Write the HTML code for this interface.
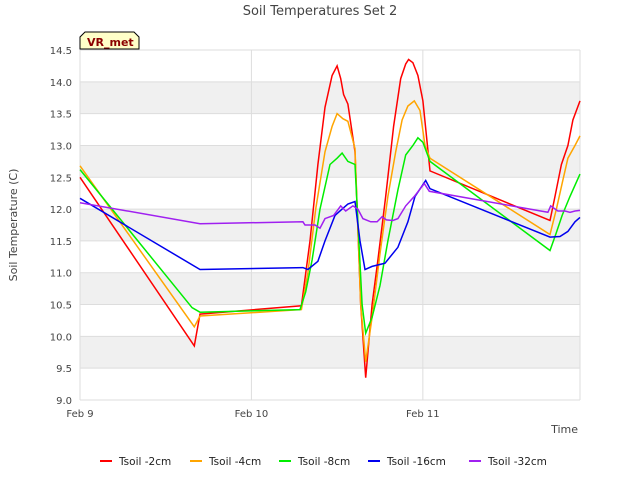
<!DOCTYPE html>
<html><head><meta charset="utf-8"><style>
body{margin:0;background:#fff;font-family:"Liberation Sans",sans-serif}
svg text{font-family:"DejaVu Sans","Liberation Sans",sans-serif}
</style></head><body>
<svg id="c" width="640" height="480">
<text x="320" y="15" text-anchor="middle" font-size="13" fill="#444">Soil Temperatures Set 2</text>
<g id="bands"></g><g id="grid"></g><g id="ticks"></g><g id="lines"></g>
<text transform="translate(17,225) rotate(-90)" text-anchor="middle" font-size="11" fill="#444">Soil Temperature (C)</text>
<text x="578" y="433" text-anchor="end" font-size="11" fill="#444">Time</text>
<g>
<path d="M80,49 L80,37 L85,32 L134,32 L139,37 L139,49 Z" fill="#ffffc8" stroke="#000" stroke-width="1"/>
<text x="87" y="46" font-size="11" font-weight="bold" fill="#8b0000">VR_met</text></g>
<g id="legend"></g>
</svg>
<script>
const names=["Tsoil -2cm","Tsoil -4cm","Tsoil -8cm","Tsoil -16cm","Tsoil -32cm"];
const colors=["#ff0000","#ffa500","#00ee00","#0000ee","#a020f0"];
const hours2=[0,16,16.8,31,32.2,33.3,34.3,35.3,36,36.5,36.9,37.5,38.5,39.3,40,40.9,41.7,42.8,43.9,44.9,45.6,46,46.6,47.3,48,49,65.8,66.5,67.4,68.3,69,70];
const temp2=[12.5,9.85,10.35,10.48,11.5,12.7,13.6,14.1,14.25,14.05,13.8,13.65,12.9,10.5,9.35,10.5,11.2,12.2,13.3,14.05,14.28,14.35,14.3,14.1,13.7,12.6,11.82,12.2,12.7,13.0,13.4,13.7];
const hours4=[0,16,16.8,31,31.9,33,34.3,35.3,36,36.8,37.5,38.5,39.3,40,40.9,42,43.1,44.2,45.1,45.9,46.8,47.6,48.3,49,65.8,66.7,67.5,68.3,69.3,70];
const temp4=[12.68,10.15,10.32,10.42,11.0,12.0,12.9,13.3,13.5,13.42,13.38,12.95,10.5,9.6,10.3,11.3,12.2,12.9,13.4,13.62,13.7,13.55,13.0,12.8,11.6,12.0,12.4,12.8,13.0,13.15];
const hours8=[0,15.7,16.8,30.8,31.6,32.5,33.6,35,36,36.7,37.5,38.5,39.5,40,40.9,42,43.1,44.5,45.6,46.6,47.3,48,49,65.8,66.6,67.5,68.6,70];
const temp8=[12.62,10.45,10.38,10.42,10.7,11.2,12.0,12.7,12.8,12.88,12.75,12.7,10.5,10.05,10.3,10.8,11.5,12.3,12.85,13.0,13.12,13.05,12.75,11.35,11.6,11.9,12.2,12.55];
const hours16=[0,16.8,31.2,31.9,33.3,34.3,35.7,36.7,37.5,38.5,39.2,39.9,40.9,42.7,44.5,45.9,46.9,48.4,49,65.8,67.2,68.3,69.3,70];
const temp16=[12.17,11.05,11.08,11.05,11.18,11.5,11.9,12.0,12.08,12.12,11.5,11.05,11.1,11.15,11.4,11.8,12.2,12.45,12.32,11.56,11.57,11.65,11.8,11.87];
const hours32=[0,16.8,31.2,31.5,32.9,33.6,34.3,35.5,36.5,37.2,38.2,38.9,39.6,40.7,41.6,42.3,42.9,43.8,44.5,45.6,46.8,48.2,48.9,65.5,65.9,66.9,67.9,68.6,69.3,70];
const temp32=[12.1,11.77,11.8,11.75,11.75,11.7,11.85,11.9,12.05,11.97,12.05,12.0,11.85,11.8,11.8,11.88,11.83,11.82,11.85,12.05,12.2,12.4,12.28,11.95,12.05,11.97,11.97,11.95,11.97,11.98];
const yTicks=[9.0,9.5,10.0,10.5,11.0,11.5,12.0,12.5,13.0,13.5,14.0,14.5];
const xTickHours=[0,24,48];
const xTickLabels=["Feb 9","Feb 10","Feb 11"];
const X0=80,X1=580,Y0=400,Y1=50,xMin=0,xMax=70,yMin=9,yMax=14.5;
const sx=h=>X0+(h-xMin)/(xMax-xMin)*(X1-X0);
const sy=v=>Y0-(v-yMin)/(yMax-yMin)*(Y0-Y1);
const NS="http://www.w3.org/2000/svg";
function mk(t,a,p){const e=document.createElementNS(NS,t);for(const k in a)e.setAttribute(k,a[k]);p.appendChild(e);return e;}
const bands=document.getElementById('bands'),grid=document.getElementById('grid'),ticks=document.getElementById('ticks'),lines=document.getElementById('lines'),legend=document.getElementById('legend');
mk('rect',{x:X0,y:Y1,width:X1-X0,height:Y0-Y1,fill:'#fff'},bands);
for(let i=0;i<yTicks.length-1;i++){if(i%2===1){const r=mk('rect',{x:X0,y:sy(yTicks[i+1]),width:X1-X0,height:sy(yTicks[i])-sy(yTicks[i+1]),fill:'#f0f0f0'},bands);

}}
yTicks.forEach(v=>{mk('line',{x1:X0,x2:X1,y1:sy(v),y2:sy(v),stroke:'#ddd','stroke-width':1},grid);
const t=mk('text',{x:X0-8,y:sy(v)+4,'text-anchor':'end','font-size':10,fill:'#444'},ticks);t.textContent=v.toFixed(1);

});
xTickHours.forEach((h,i)=>{mk('line',{x1:sx(h),x2:sx(h),y1:Y1,y2:Y0,stroke:'#ddd','stroke-width':1},grid);
const t=mk('text',{x:sx(h),y:Y0+17,'text-anchor':'middle','font-size':10,fill:'#444'},ticks);t.textContent=xTickLabels[i];

});
mk('line',{x1:X1,x2:X1,y1:Y1,y2:Y0,stroke:'#ddd'},grid);
const series=[[hours2,temp2],[hours4,temp4],[hours8,temp8],[hours16,temp16],[hours32,temp32]];
series.forEach((s,i)=>{const d=s[0].map((h,j)=>(j?'L':'M')+sx(h).toFixed(1)+','+sy(s[1][j]).toFixed(1)).join('');
const p=mk('path',{d:d,fill:'none',stroke:colors[i],'stroke-width':1.5},lines);

});
const lx=[100,190,279,368,469];
names.forEach((n,i)=>{const g=mk('g',{},legend);


mk('line',{x1:lx[i],x2:lx[i]+12,y1:461,y2:461,stroke:colors[i],'stroke-width':2},g);
const t=mk('text',{x:lx[i]+19,y:465,'font-size':10.5,fill:'#222'},g);t.textContent=n;});
</script>
</body></html>
